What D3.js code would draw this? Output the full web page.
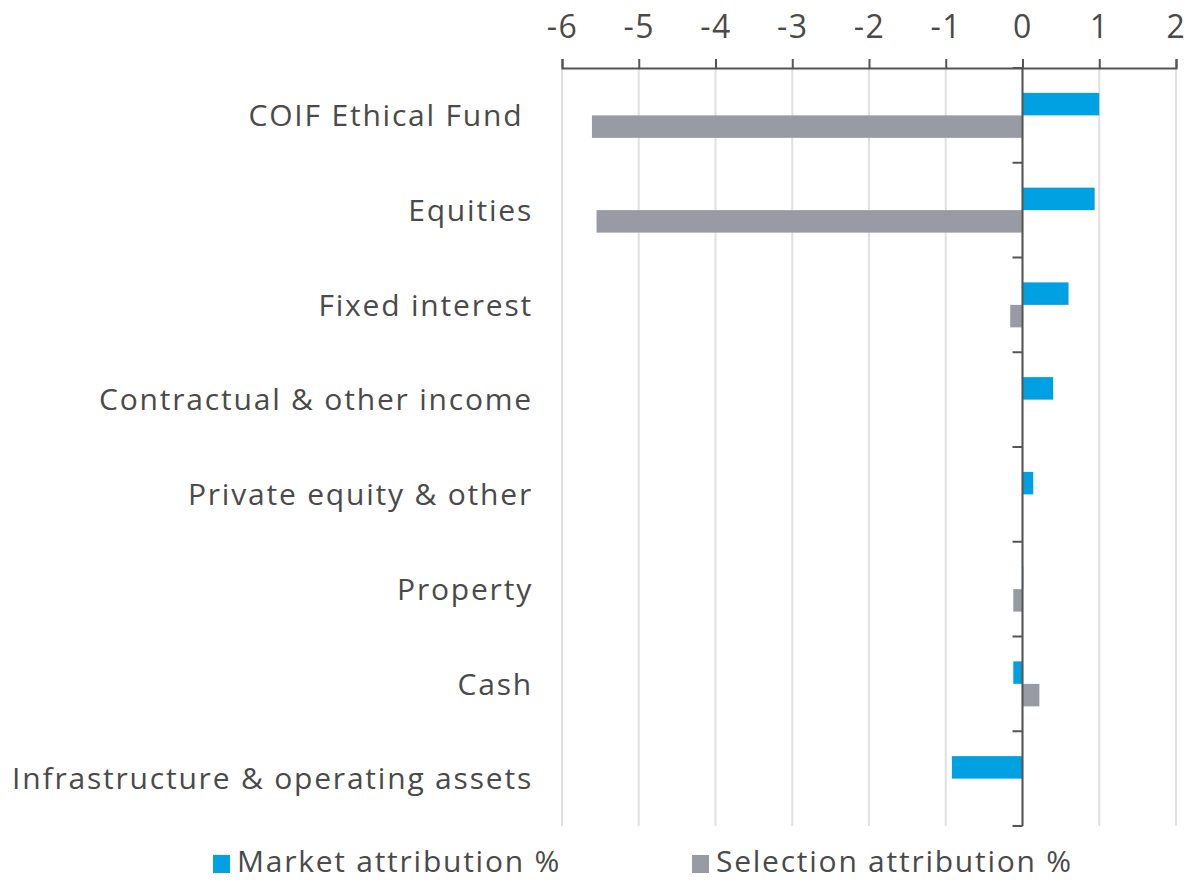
<!DOCTYPE html>
<html>
<head>
<meta charset="utf-8">
<script src="https://cdn.jsdelivr.net/npm/d3@7"></script>
<style>
  body { margin: 0; background: #fff; }
  text { font-family: "Open Sans", sans-serif; fill: #4a4a4a; }
</style>
</head>
<body>
<script>
var categories = ["COIF Ethical Fund ", "Equities", "Fixed interest", "Contractual & other income",
                  "Private equity & other", "Property", "Cash", "Infrastructure & operating assets"];
var marketAttribution = [1.0, 0.94, 0.6, 0.4, 0.14, 0.01, -0.12, -0.92];
var selectionAttribution = [-5.61, -5.55, -0.16, 0, 0, -0.12, 0.22, 0];
var xTicks = [-6, -5, -4, -3, -2, -1, 0, 1, 2];
var seriesNames = ["Market attribution %", "Selection attribution %"];
var seriesColors = ["#00a1e2", "#989ba3"];

var svgWidth = 1187, svgHeight = 880;
var margin = {top: 68, left: 562, right: 11, bottom: 54};
var width = svgWidth - margin.left - margin.right,
    height = svgHeight - margin.top - margin.bottom;

var svg = d3.select('body').append('svg')
  .attr('width', svgWidth)
  .attr('height', svgHeight);

var g = svg.append('g')
  .attr('transform', `translate(${margin.left},${margin.top})`);

var xScale = d3.scaleLinear().domain([-6, 2]).range([0, width]);
var yScale = d3.scaleBand().domain(categories).range([0, height]);
var barH = 22.5;

// grid
g.selectAll('.grid').data(xTicks).enter().append('line')
  .attr('class', 'grid')
  .attr('x1', d => xScale(d)).attr('x2', d => xScale(d))
  .attr('y1', 0).attr('y2', height)
  .attr('stroke', '#e0e0e0').attr('stroke-width', 2);

// top axis
var xAxis = d3.axisTop(xScale).tickValues(xTicks).tickSize(9).tickPadding(21)
  .tickFormat(d => d);
var ax = g.append('g').call(xAxis);
ax.select('.domain').attr('stroke', '#555').attr('stroke-width', 2);
ax.selectAll('.tick line').attr('stroke', '#555').attr('stroke-width', 2);
ax.selectAll('.tick text').style('font-size', '32px').style('font-family', '"Open Sans", sans-serif')
  .style('letter-spacing', '1.5px')
  .attr('fill', '#4a4a4a');

var rows = categories.map((c, i) => ({cat: c, m: marketAttribution[i], s: selectionAttribution[i]}));

// bars
var bar = g.selectAll('.row').data(rows).enter().append('g').attr('class', 'row');
bar.append('rect')
  .attr('x', d => xScale(Math.min(0, d.m)))
  .attr('y', d => yScale(d.cat) + yScale.bandwidth() / 2 - barH)
  .attr('width', d => Math.abs(xScale(d.m) - xScale(0)))
  .attr('height', barH)
  .attr('fill', seriesColors[0]);
bar.append('rect')
  .attr('x', d => xScale(Math.min(0, d.s)))
  .attr('y', d => yScale(d.cat) + yScale.bandwidth() / 2)
  .attr('width', d => Math.abs(xScale(d.s) - xScale(0)))
  .attr('height', barH)
  .attr('fill', seriesColors[1]);

// zero axis with band ticks
var bounds = categories.map(c => yScale(c)).concat([height]);
g.append('line')
  .attr('x1', xScale(0)).attr('x2', xScale(0))
  .attr('y1', 0).attr('y2', height)
  .attr('stroke', '#555').attr('stroke-width', 2);
g.selectAll('.ytick').data(bounds).enter().append('line')
  .attr('x1', xScale(0) - 10).attr('x2', xScale(0))
  .attr('y1', d => d).attr('y2', d => d)
  .attr('stroke', '#555').attr('stroke-width', 2);

// category labels
g.selectAll('.cat').data(categories).enter().append('text')
  .attr('x', -29)
  .attr('y', d => yScale(d) + yScale.bandwidth() / 2)
  .attr('dy', '0.36em')
  .attr('text-anchor', 'end')
  .style('white-space', 'pre')
  .style('font-size', '30px')
  .style('letter-spacing', '1.8px')
  .text(d => d);

// legend
var legX = [213, 692];
var leg = svg.selectAll('.leg').data(seriesNames).enter().append('g')
  .attr('transform', (d, i) => `translate(${legX[i]},855)`);
leg.append('rect').attr('width', 17).attr('height', 18).attr('fill', (d, i) => seriesColors[i]);
leg.append('text').attr('x', 24).attr('y', 17)
  .style('font-size', '30px').style('letter-spacing', '1.75px').text(d => d);
</script>
</body>
</html>
